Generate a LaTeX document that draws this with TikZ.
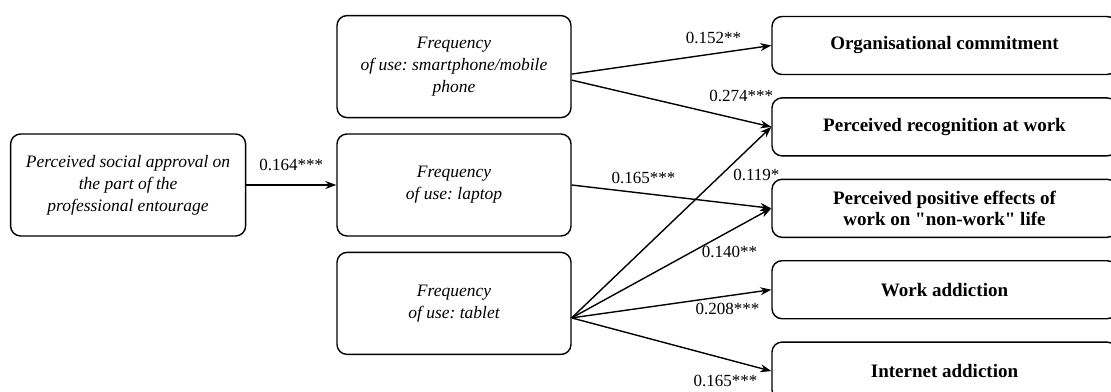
\documentclass[tikz,border=0pt]{standalone}
\usepackage{fontspec}
\setmainfont{Liberation Serif}
\newfontfamily\qfont{Liberation Serif}
\usetikzlibrary{arrows.meta,positioning}
\frenchspacing

\begin{document}
\begin{tikzpicture}[x=1pt,y=-1pt,
	box/.style={draw,rounded corners=10pt,line width=1.4pt,align=center,inner sep=0pt},
	var/.style={box,minimum width=234pt,minimum height=102pt,font=\fontsize{17.5}{22}\selectfont\itshape},
	outcome/.style={box,minimum width=345pt,minimum height=58pt,font=\fontsize{19}{20.5}\selectfont\bfseries},
	link/.style={-{Stealth[length=11pt,width=8pt]},line width=1.4pt},
	coef/.style={font=\fontsize{17}{20}\selectfont,inner sep=1pt}]
		\fill[white] (0,0) rectangle (1111,391);
		\useasboundingbox (0,0) rectangle (1111,391);
		% predictors
		\node[var] (laptop) at (454,185) {Frequency\\of use: laptop};
		\node[var,above=15pt of laptop] (phone) {Frequency\\of use: smartphone/mobile\\phone};
		\node[var,below=15pt of laptop] (tablet) {Frequency\\of use: tablet};
		\node[var,left=90pt of laptop,minimum width=235pt] (approval) {Perceived social approval on\\the part of the\\professional entourage};
		% outcomes
		\node[outcome] (commit) at (944.5,45.5) {Organisational commitment};
		\node[outcome,below=22pt of commit] (recog) {Perceived recognition at work};
		\node[outcome,below=22pt of recog] (effects) {Perceived positive effects of\\work on {\qfont"}non-work{\qfont"} life};
		\node[outcome,below=22pt of effects] (workadd) {Work addiction};
		\node[outcome,below=22pt of workadd] (netadd) {Internet addiction};
		% paths
		\draw[link] (approval.east) -- node[coef,above=13pt] (c1) {0.164***} (laptop.west);
		\draw[link] ([yshift=-7.5pt]phone.east) -- node[coef,pos=0.71,above=8pt] (c2) {0.152**} (commit.west);
		\draw[link] ([yshift=-13.5pt]phone.east) -- node[coef,pos=0.85,above=16pt] (c3) {0.274***} (recog.west);
		\draw[link] (laptop.east) -- node[coef,pos=0.36,above=8pt] (c4) {0.165***} (effects.west);
		\draw[link] ([yshift=-14.5pt]tablet.east) -- node[coef,pos=0.925,below=26pt] (c5) {0.119*} (recog.west);
		\draw[link] ([yshift=-14.5pt]tablet.east) -- node[coef,pos=0.79,below=13pt] (c6) {0.140**} (effects.west);
		\draw[link] ([yshift=-14.5pt]tablet.east) -- node[coef,pos=0.78,below=6pt] (c7) {0.208***} (workadd.west);
		\draw[link] ([yshift=-14.5pt]tablet.east) -- node[coef,pos=0.77,below=15pt] (c8) {0.165***} (netadd.west);
\end{tikzpicture}
\end{document}
